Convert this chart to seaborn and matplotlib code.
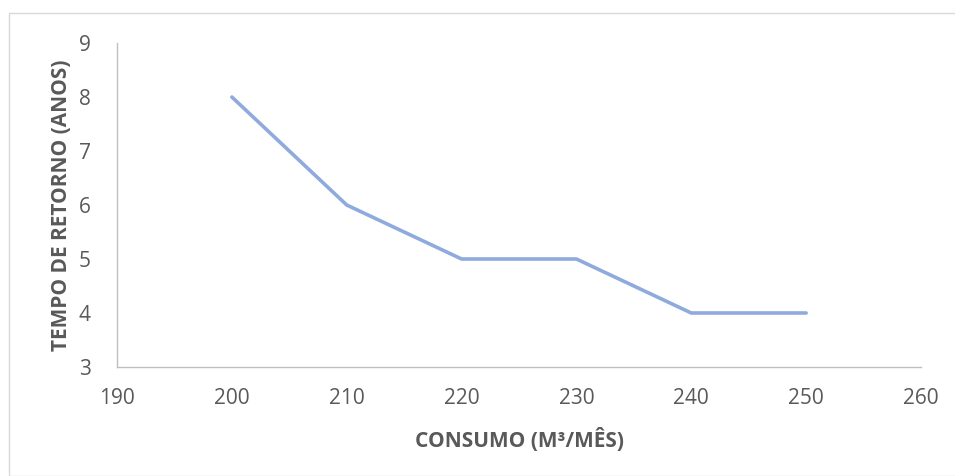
import matplotlib
matplotlib.use("Agg")
import matplotlib.pyplot as plt
import seaborn as sns
import pandas as pd
from matplotlib.patches import Rectangle

consumo = [200, 210, 220, 230, 240, 250]
retorno = [8, 6, 5, 5, 4, 4]
x_ticks = [190, 200, 210, 220, 230, 240, 250, 260]
y_ticks = [3, 4, 5, 6, 7, 8, 9]

sns.set_theme(style="white")
plt.rcParams['font.family'] = ['Open Sans', 'DejaVu Sans']

df = pd.DataFrame({"consumo": consumo, "retorno": retorno})

fig = plt.figure(figsize=(9.55, 4.76), dpi=100)
ax = fig.add_axes([117/955, 1-367/476, (921-117)/955, (367-43)/476])

sns.lineplot(data=df, x="consumo", y="retorno", ax=ax, color="#8faadc", linewidth=2.6)

ax.set_xlim(190, 260)
ax.set_ylim(3, 9)
ax.set_xticks(x_ticks)
ax.set_yticks(y_ticks)
ax.tick_params(axis='both', length=0, labelsize=15, colors="#595959")
ax.tick_params(axis='x', pad=15)
ax.tick_params(axis='y', pad=19)

for s in ["top", "right"]:
    ax.spines[s].set_visible(False)
for s in ["left", "bottom"]:
    ax.spines[s].set_color("#bfbfbf")
    ax.spines[s].set_linewidth(1.0)

ax.set_xlabel("CONSUMO (M³/MÊS)", fontsize=15, fontweight="bold", color="#595959", labelpad=14)
ax.set_ylabel("TEMPO DE RETORNO (ANOS)", fontsize=15, fontweight="bold", color="#595959", labelpad=5)

fig.patches.append(Rectangle((9/955, 0), 1.0, 1-13/476, transform=fig.transFigure,
                             fill=False, edgecolor="#d9d9d9", linewidth=1.0))

fig.savefig("out.png", dpi=100)
